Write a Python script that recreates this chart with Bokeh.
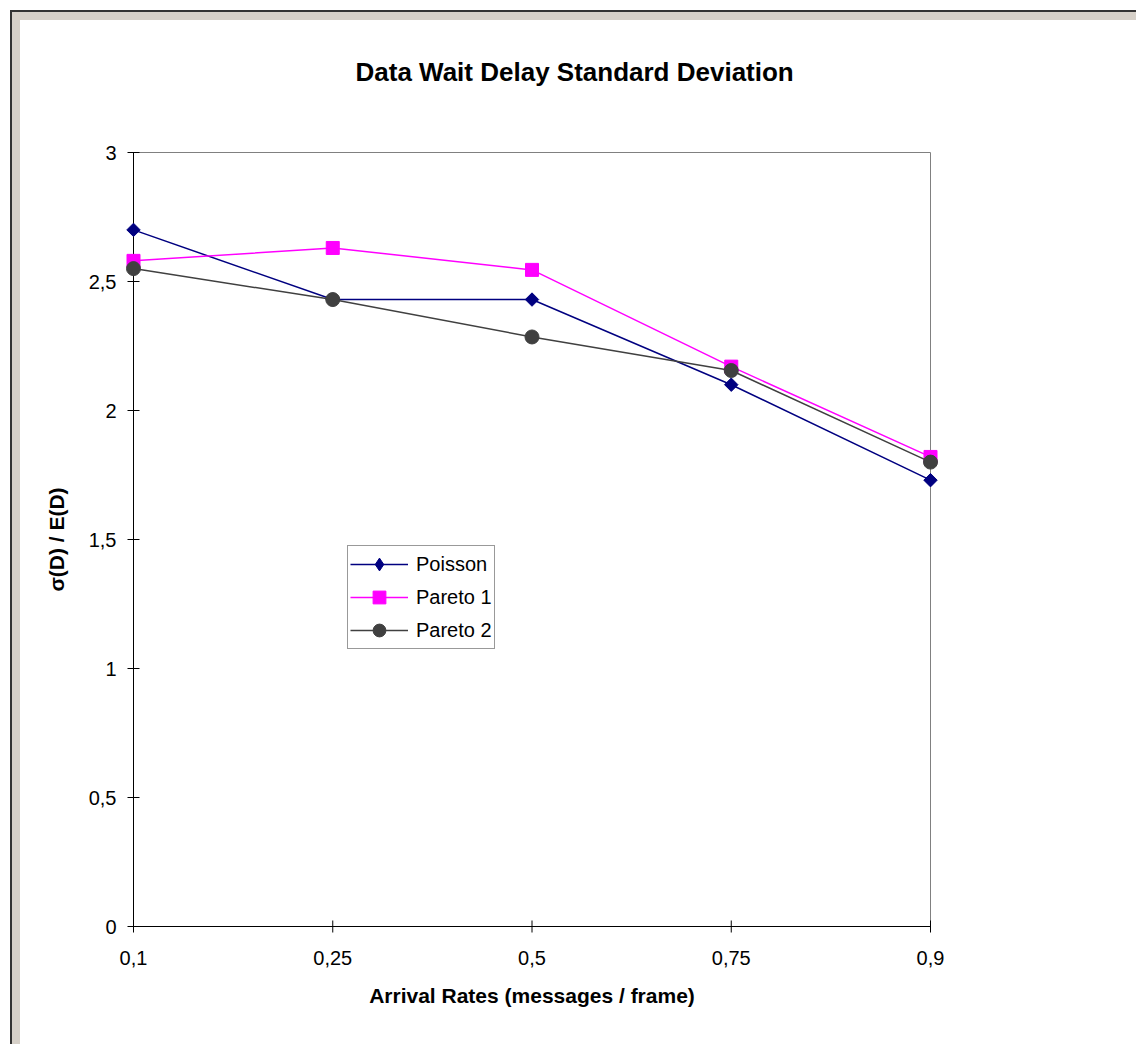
import math
from bokeh.plotting import figure
from bokeh.models import FixedTicker, Legend, LegendItem, Range1d
from bokeh.embed import file_html
from bokeh.resources import INLINE

categories = ["0,1", "0,25", "0,5", "0,75", "0,9"]
poisson = [2.70, 2.43, 2.43, 2.10, 1.73]
pareto1 = [2.58, 2.63, 2.545, 2.17, 1.82]
pareto2 = [2.55, 2.43, 2.285, 2.155, 1.80]
y_ticks = [0, 0.5, 1, 1.5, 2, 2.5, 3]
y_tick_labels = ["0", "0,5", "1", "1,5", "2", "2,5", "3"]

FONT = "Liberation Sans"
xs = list(range(len(categories)))
x_max = len(categories) - 1
y_max = max(y_ticks)

# plot area geometry (pixels); a small pad keeps edge markers unclipped
PAD = 12
TICK = 6
AREA_W, AREA_H = 797, 774
pad_x = PAD * x_max / AREA_W
pad_y = PAD * y_max / AREA_H
tick_dx = TICK * x_max / AREA_W
tick_dy = TICK * y_max / AREA_H
LEFT, TOP = 121, 140
BOTTOM = 1044 - TOP - AREA_H - 2 * PAD

p = figure(width=1136, height=1044, frame_width=AREA_W + 2 * PAD, frame_height=AREA_H + 2 * PAD,
           min_border_left=LEFT, min_border_right=1136 - LEFT - AREA_W - 2 * PAD,
           min_border_top=TOP, min_border_bottom=BOTTOM,
           output_backend="svg", toolbar_location=None,
           x_range=Range1d(-pad_x, x_max + pad_x), y_range=Range1d(-pad_y, y_max + pad_y),
           title="Data Wait Delay Standard Deviation")

p.styles = {"box-shadow": "inset 10px 10px 0 #ffffff, inset 12px 12px 0 #333333, inset 20px 20px 0 #D6D0C8",
            "background-color": "#ffffff"}
p.border_fill_alpha = 0
p.background_fill_color = "white"
p.outline_line_color = None
p.grid.visible = False

p.title.text_font = FONT
p.title.text_font_size = "26px"
p.title.text_font_style = "bold"
p.title.text_color = "black"
p.title.align = "left"
p.title.offset = 234
p.title.standoff = 108

# plot-area border: gray top/right, black axis lines with crossing ticks
p.line([0, x_max], [y_max, y_max], line_color="#808080", line_width=1)
p.line([x_max, x_max], [0, y_max], line_color="#808080", line_width=1)
p.line([0, 0], [0, y_max], line_color="black", line_width=1)
p.line([0, x_max], [0, 0], line_color="black", line_width=1)
p.segment(x0=[-tick_dx] * len(y_ticks), x1=[tick_dx] * len(y_ticks), y0=y_ticks, y1=y_ticks,
          line_color="black", line_width=1)
p.segment(x0=xs, x1=xs, y0=[-tick_dy] * len(xs), y1=[tick_dy] * len(xs),
          line_color="black", line_width=1)

for ax in (p.xaxis[0], p.yaxis[0]):
    ax.axis_line_color = None
    ax.major_tick_line_color = None
    ax.major_tick_in = 0
    ax.major_tick_out = 0
    ax.minor_tick_line_color = None
    ax.major_label_text_font = FONT
    ax.major_label_text_font_size = "20px"
    ax.major_label_text_color = "black"
    ax.axis_label_text_font = FONT
    ax.axis_label_text_font_size = "21px"
    ax.axis_label_text_font_style = "bold"
    ax.axis_label_text_color = "black"

p.xaxis.ticker = FixedTicker(ticks=xs)
p.xaxis.major_label_overrides = {i: c for i, c in zip(xs, categories)}
p.xaxis.axis_label = "Arrival Rates (messages / frame)"
p.xaxis.major_label_standoff = 12
p.xaxis.axis_label_standoff = 16

p.yaxis.ticker = FixedTicker(ticks=y_ticks)
p.yaxis.major_label_overrides = {t: l for t, l in zip(y_ticks, y_tick_labels)}
p.yaxis.axis_label = "σ(D) / E(D)"
p.yaxis.major_label_standoff = 5
p.yaxis.axis_label_standoff = 18

l1 = p.line(xs, poisson, line_color="#000080", line_width=1.5)
m1 = p.scatter(xs, poisson, marker="square", angle=math.pi / 4, size=9.5,
               fill_color="#000080", line_color="#000080")
m1_leg = p.scatter(xs, poisson, marker="diamond", fill_color="#000080", line_color="#000080",
                   visible=False)
l2 = p.line(xs, pareto1, line_color="#FF00FF", line_width=1.5)
m2 = p.scatter(xs, pareto1, marker="square", size=13, fill_color="#FF00FF", line_color="#FF00FF")
l3 = p.line(xs, pareto2, line_color="#404040", line_width=1.5)
m3 = p.scatter(xs, pareto2, marker="circle", size=14, fill_color="#404040", line_color="#404040")

legend = Legend(items=[LegendItem(label="Poisson", renderers=[l1, m1_leg]),
                       LegendItem(label="Pareto 1", renderers=[l2, m2]),
                       LegendItem(label="Pareto 2", renderers=[l3, m3])],
                location=(347 - LEFT, 1044 - BOTTOM - 649))
legend.border_line_color = "#333333"
legend.border_line_width = 1
legend.background_fill_color = "white"
legend.background_fill_alpha = 1
legend.inactive_fill_alpha = 0
legend.label_text_font = FONT
legend.label_text_font_size = "20px"
legend.label_text_color = "black"
legend.padding = 2
legend.spacing = 1
legend.margin = 0
legend.glyph_width = 58
legend.glyph_height = 32
legend.label_height = 32
legend.label_standoff = 8
p.add_layout(legend, "center")

open("out.html", "w").write(file_html(p, INLINE))
